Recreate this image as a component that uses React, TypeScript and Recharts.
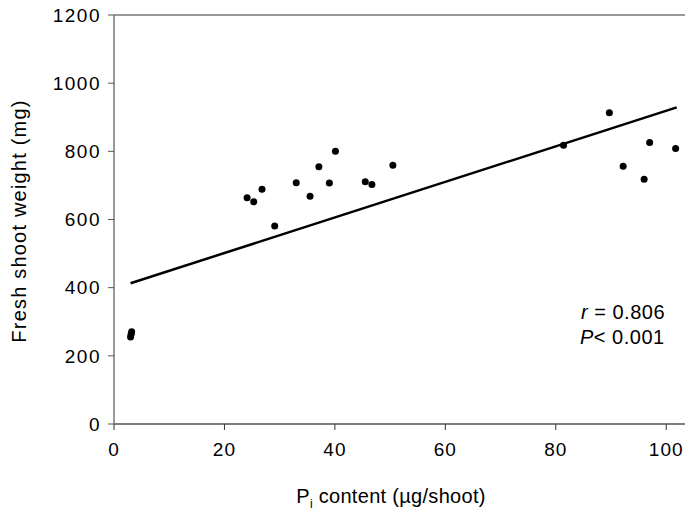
import React from "react";
import {
  ScatterChart, Scatter, XAxis, YAxis, ReferenceLine, Customized,
} from "recharts";

// Pi content (µg/shoot) vs fresh shoot weight (mg)
const piContent = [
  3.0, 3.1, 3.2, 24.1, 25.3, 26.8, 29.1, 33.0, 35.5, 37.1, 39.0, 40.1,
  45.5, 46.7, 50.5, 81.4, 89.7, 92.2, 96.0, 97.0, 101.7,
];
const shootWeight = [
  255, 263, 271, 664, 652, 689, 581, 708, 668, 755, 707, 800,
  711, 703, 759, 818, 913, 756, 718, 826, 808,
];
// regression line end points
const fitX = [3.0, 101.9];
const fitY = [413, 929];

const xTicks = [0, 20, 40, 60, 80, 100];
const yTicks = [0, 200, 400, 600, 800, 1000, 1200];

const points = piContent.map((x, i) => ({ x, y: shootWeight[i] }));
const fitLine = fitX.map((x, i) => ({ x, y: fitY[i] }));

const FONT = "'Liberation Sans', Arial, sans-serif";

function Annotation() {
  return (
    <g fontFamily={FONT} fontSize={20} fill="#000" letterSpacing={0.5}>
      <text x={581} y={319}>
        <tspan fontStyle="italic">r</tspan>
        <tspan> = 0.806</tspan>
      </text>
      <text x={580} y={344}>
        <tspan fontStyle="italic">P</tspan>
        <tspan>{"< 0.001"}</tspan>
      </text>
      <text
        transform="translate(26,221) rotate(-90)"
        textAnchor="middle"
        fontSize={20}
        letterSpacing={1.2}
      >
        Fresh shoot weight (mg)
      </text>
      <text x={391} y={503} textAnchor="middle" fontSize={20} letterSpacing={0.3}>
        <tspan>P</tspan>
        <tspan fontSize={12} dy={5}>i</tspan>
        <tspan dy={-5}> content (µg/shoot)</tspan>
      </text>
    </g>
  );
}

export default function App() {
  return (
    <div style={{ position: "absolute", left: 0, top: 0, background: "#fff" }}>
      <ScatterChart
        width={685}
        height={516}
        margin={{ top: 15, right: 0, bottom: 0, left: 0 }}
      >
        <XAxis
          type="number"
          dataKey="x"
          domain={[0, 103.4]}
          ticks={xTicks}
          allowDataOverflow
          height={92}
          axisLine={{ stroke: "#000", strokeWidth: 1.2 }}
          tickLine={{ stroke: "#333" }}
          tickSize={6}
          tickMargin={13}
          tick={{ fill: "#000", fontSize: 19, fontFamily: FONT, letterSpacing: 1 }}
        />
        <YAxis
          type="number"
          dataKey="y"
          domain={[0, 1200]}
          ticks={yTicks}
          width={114}
          axisLine={{ stroke: "#777", strokeWidth: 1.5 }}
          tickLine={{ stroke: "#555" }}
          tickSize={6}
          tickMargin={7}
          tick={{ fill: "#000", fontSize: 19, fontFamily: FONT, letterSpacing: 1.5 }}
        />
        <ReferenceLine y={1200} stroke="#777" strokeWidth={1.5} />
        <Scatter
          data={fitLine}
          line={{ stroke: "#000", strokeWidth: 2.5 }}
          shape={() => <g />}
          isAnimationActive={false}
        />
        <Scatter
          data={points}
          fill="#000"
          shape={(p: any) => <circle cx={p.cx} cy={p.cy} r={3.5} fill="#000" />}
          isAnimationActive={false}
        />
        <Customized component={Annotation} />
      </ScatterChart>
    </div>
  );
}
